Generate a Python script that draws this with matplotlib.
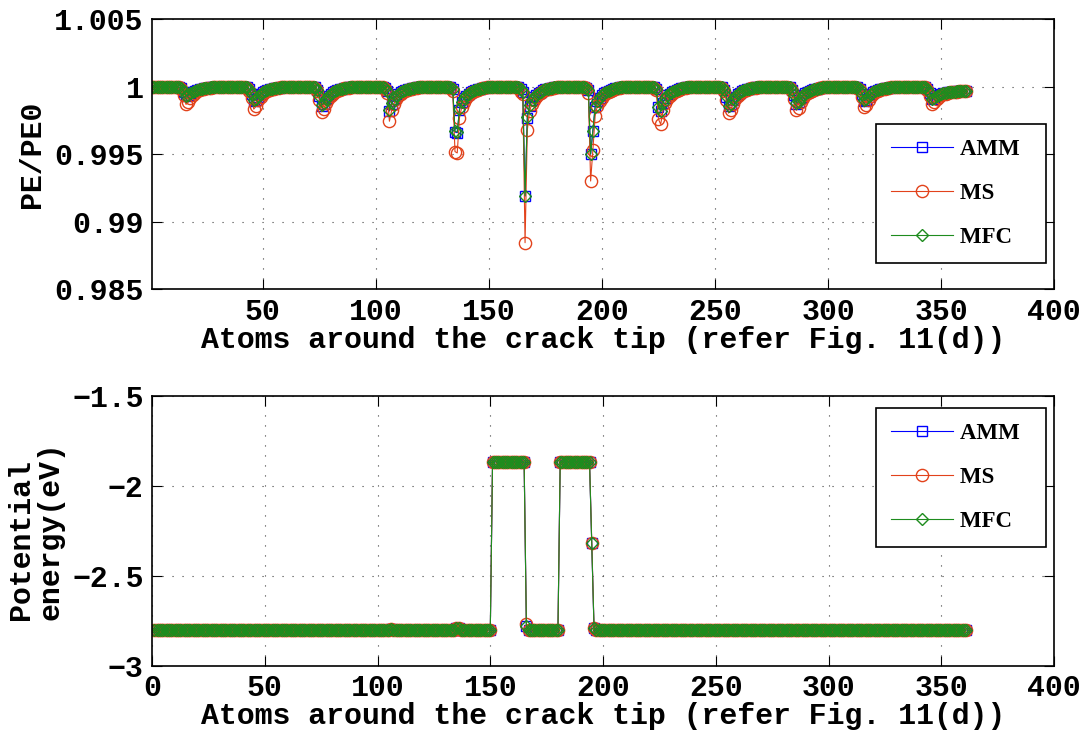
import matplotlib
matplotlib.use("Agg")
import matplotlib.pyplot as plt
from matplotlib.font_manager import FontProperties
from matplotlib.ticker import FixedLocator, FuncFormatter

# ---------------------------------------------------------------------------
# Datos: 361 atomos alrededor de la punta de grieta
# (atomo 1 + 12 anillos de 30 atomos).
# PE/PE0 guardado como desviacion de 1 en unidades de 1e-5, anillo por anillo.
# ---------------------------------------------------------------------------
atoms = list(range(1, 362))

amm_dev = (
    [0]
    + [0] * 11 + [-3, -12, -35, -68, -62, -48, -37, -29, -23, -18, -14, -11, -8, -6, -4, -3, -2, -1, 0]
    + [0] * 11 + [-4, -18, -55, -105, -95, -72, -55, -42, -33, -26, -20, -15, -11, -8, -6, -4, -3, -1, 0]
    + [0] * 11 + [-5, -25, -70, -140, -125, -92, -70, -54, -42, -33, -25, -19, -14, -10, -7, -5, -3, -1, 0]
    + [0] * 11 + [-3, -10, -30, -180, -125, -90, -68, -52, -41, -32, -25, -19, -14, -10, -7, -5, -3, -1, 0]
    + [0] * 10 + [-2, -5, -15, -335, -340, -170, -115, -85, -65, -50, -40, -31, -24, -18, -13, -9, -6, -4, -2, 0]
    + [0] * 11 + [-5, -15, -40, -810, -228, -140, -100, -75, -58, -45, -35, -27, -20, -15, -11, -8, -5, -3, -1]
    + [0] * 10 + [-3, -8, -25, -500, -328, -150, -105, -80, -62, -48, -38, -30, -23, -17, -12, -8, -5, -3, -1, 0]
    + [0] * 11 + [-5, -15, -150, -182, -120, -85, -64, -50, -39, -30, -23, -17, -12, -8, -5, -3, -2, -1, 0]
    + [0] * 11 + [-5, -25, -72, -145, -128, -95, -72, -55, -43, -34, -26, -20, -14, -10, -7, -5, -3, -1, 0]
    + [0] * 11 + [-4, -22, -62, -125, -112, -84, -64, -49, -38, -30, -23, -17, -13, -9, -6, -4, -3, -1, 0]
    + [0] * 11 + [-4, -18, -55, -105, -95, -72, -55, -42, -33, -26, -20, -15, -11, -8, -6, -4, -3, -1, 0]
    + [0] * 11 + [-4, -16, -48, -90, -84, -70, -60, -53, -47, -43, -40, -38, -36, -35, -34, -33, -32, -31, -30]
)

ms_dev = (
    [0]
    + [0] * 11 + [-5, -20, -60, -130, -115, -80, -58, -44, -34, -26, -20, -15, -11, -8, -6, -4, -3, -1, 0]
    + [0] * 11 + [-6, -28, -80, -165, -145, -100, -72, -54, -42, -32, -24, -18, -13, -10, -7, -5, -3, -1, 0]
    + [0] * 11 + [-7, -32, -95, -185, -165, -120, -88, -66, -51, -40, -30, -22, -16, -12, -9, -6, -4, -2, 0]
    + [0] * 11 + [-5, -15, -45, -255, -175, -125, -92, -70, -54, -42, -32, -24, -18, -13, -9, -6, -4, -2, 0]
    + [0] * 10 + [-3, -8, -30, -480, -490, -228, -150, -110, -82, -63, -49, -38, -29, -22, -16, -11, -7, -4, -2, 0]
    + [0] * 11 + [-8, -40, -55, -1155, -320, -180, -128, -95, -72, -56, -44, -34, -26, -19, -14, -10, -6, -3, -1]
    + [0] * 10 + [-5, -12, -45, -698, -468, -216, -140, -105, -80, -62, -48, -37, -28, -21, -15, -10, -6, -3, -1, 0]
    + [0] * 11 + [-8, -25, -240, -278, -175, -120, -88, -68, -52, -40, -30, -22, -16, -11, -7, -4, -2, -1, 0]
    + [0] * 11 + [-7, -33, -100, -195, -172, -125, -92, -69, -53, -41, -31, -23, -17, -12, -9, -6, -4, -2, 0]
    + [0] * 11 + [-6, -30, -88, -175, -155, -112, -82, -62, -48, -37, -28, -21, -15, -11, -8, -5, -3, -1, 0]
    + [0] * 11 + [-6, -26, -76, -150, -132, -95, -70, -53, -41, -32, -24, -18, -13, -10, -7, -5, -3, -1, 0]
    + [0] * 11 + [-5, -22, -65, -125, -112, -90, -75, -64, -56, -50, -45, -42, -39, -37, -35, -34, -33, -32, -31]
)

mfc_dev = (
    [0]
    + [0] * 11 + [-3, -11, -33, -65, -60, -47, -36, -29, -23, -18, -14, -11, -8, -6, -4, -3, -2, -1, 0]
    + [0] * 11 + [-4, -17, -52, -101, -92, -70, -54, -42, -33, -26, -20, -15, -11, -8, -6, -4, -3, -1, 0]
    + [0] * 11 + [-5, -24, -67, -135, -121, -90, -69, -53, -42, -33, -25, -19, -14, -10, -7, -5, -3, -1, 0]
    + [0] * 11 + [-3, -10, -29, -175, -121, -88, -67, -52, -41, -32, -25, -19, -14, -10, -7, -5, -3, -1, 0]
    + [0] * 10 + [-2, -5, -15, -330, -335, -166, -112, -84, -64, -50, -40, -31, -24, -18, -13, -9, -6, -4, -2, 0]
    + [0] * 11 + [-5, -15, -39, -808, -225, -138, -99, -74, -58, -45, -35, -27, -20, -15, -11, -8, -5, -3, -1]
    + [0] * 10 + [-3, -8, -25, -497, -325, -148, -104, -79, -62, -48, -38, -30, -23, -17, -12, -8, -5, -3, -1, 0]
    + [0] * 11 + [-5, -15, -146, -177, -117, -83, -63, -49, -39, -30, -23, -17, -12, -8, -5, -3, -2, -1, 0]
    + [0] * 11 + [-5, -24, -70, -140, -124, -92, -70, -54, -42, -33, -26, -20, -14, -10, -7, -5, -3, -1, 0]
    + [0] * 11 + [-4, -21, -60, -121, -109, -82, -63, -48, -38, -30, -23, -17, -13, -9, -6, -4, -3, -1, 0]
    + [0] * 11 + [-4, -17, -53, -101, -92, -70, -54, -42, -33, -26, -20, -15, -11, -8, -6, -4, -3, -1, 0]
    + [0] * 11 + [-4, -15, -46, -87, -82, -69, -59, -52, -47, -43, -40, -38, -36, -35, -34, -33, -32, -31, -30]
)

# energia potencial (eV): base -2.80, superficies de la grieta en -1.865
pe_amm = ([-2.80] * 105 + [-2.795] + [-2.80] * 28 + [-2.791, -2.790] + [-2.80] * 14
          + [-1.865] * 15 + [-2.777] + [-2.80] * 14 + [-1.865] * 14
          + [-2.318, -2.791] + [-2.80] * 165)
pe_ms = ([-2.80] * 105 + [-2.793] + [-2.80] * 28 + [-2.787, -2.786] + [-2.80] * 14
         + [-1.865] * 15 + [-2.768] + [-2.80] * 14 + [-1.865] * 14
         + [-2.314, -2.787] + [-2.80] * 165)
pe_mfc = ([-2.80] * 105 + [-2.795] + [-2.80] * 28 + [-2.791, -2.790] + [-2.80] * 14
          + [-1.865] * 15 + [-2.777] + [-2.80] * 14 + [-1.865] * 14
          + [-2.319, -2.791] + [-2.80] * 165)

for serie in (amm_dev, ms_dev, mfc_dev, pe_amm, pe_ms, pe_mfc):
    assert len(serie) == len(atoms)

ratio_amm = [1 + d * 1e-5 for d in amm_dev]
ratio_ms = [1 + d * 1e-5 for d in ms_dev]
ratio_mfc = [1 + d * 1e-5 for d in mfc_dev]

labels = ['AMM', 'MS', 'MFC']
xlabel = 'Atoms around the crack tip (refer Fig. 11(d))'

# ---------------------------------------------------------------------------
plt.rcParams['font.family'] = ['Liberation Mono', 'DejaVu Sans Mono']
plt.rcParams['font.weight'] = 'bold'
FS = 21.5

C_AMM, C_MS, C_MFC = '#0000ff', '#e2421b', '#1e8c1e'
estilos = [
    dict(color=C_AMM, marker='s', ms=6.8, mfc='none', mec=C_AMM),
    dict(color=C_MS, marker='o', ms=8.8, mfc='none', mec=C_MS),
    dict(color=C_MFC, marker='D', ms=6.6, mfc='none', mec=C_MFC),
]
leg_font = FontProperties(family='Liberation Serif', weight='bold', size=16.5)

fig = plt.figure(figsize=(10.86, 7.34), dpi=100)
ax1 = fig.add_axes([0.14, 0.6059, 0.8306, 0.3678])
ax2 = fig.add_axes([0.14, 0.0926, 0.8306, 0.3678])


def estilo_ejes(ax):
    ax.set_axisbelow(True)
    ax.grid(True, linestyle=(0, (1, 8)), color='0.25', linewidth=0.8)
    ax.tick_params(direction='in', length=7, width=0.8, top=True, right=True,
                   labelsize=FS, pad=6)
    for s in ax.spines.values():
        s.set_linewidth(1.2)
    ax.set_xlabel(xlabel, fontsize=FS, fontweight='bold', labelpad=0)


def leyenda(ax, y_top):
    leg = ax.legend([l + '  ' for l in labels], loc='upper right',
                    bbox_to_anchor=(0.991, y_top), prop=leg_font,
                    fancybox=False, edgecolor='black', framealpha=1,
                    borderpad=0.65, labelspacing=1.0, handlelength=2.7,
                    handletextpad=0.3, borderaxespad=0, numpoints=1)
    leg.get_frame().set_linewidth(1.2)


# --- PE/PE0 ---
for serie, st in zip([ratio_amm, ratio_ms, ratio_mfc], estilos):
    ax1.plot(atoms, serie, lw=0.8, mew=1.0, **st)
ax1.set_xlim(1, 400)
ax1.set_ylim(0.985, 1.005)
ax1.xaxis.set_major_locator(FixedLocator([50, 100, 150, 200, 250, 300, 350, 400]))
ax1.yaxis.set_major_locator(FixedLocator([0.985, 0.99, 0.995, 1.0, 1.005]))
ax1.yaxis.set_major_formatter(FuncFormatter(lambda v, p: '%g' % round(v, 3)))
estilo_ejes(ax1)
ax1.set_ylabel('PE/PE0', fontsize=FS, fontweight='bold')
ax1.yaxis.set_label_coords(-0.118, 0.5)
leyenda(ax1, 0.612)

# --- energia potencial ---
for serie, st in zip([pe_amm, pe_ms, pe_mfc], estilos):
    ax2.plot(atoms, serie, lw=0.8, mew=1.0, **st)
ax2.set_xlim(0, 400)
ax2.set_ylim(-3, -1.5)
ax2.xaxis.set_major_locator(FixedLocator(list(range(0, 401, 50))))
ax2.yaxis.set_major_locator(FixedLocator([-3, -2.5, -2, -1.5]))
ax2.yaxis.set_major_formatter(FuncFormatter(lambda v, p: ('%g' % v).replace('-', '\u2212')))
estilo_ejes(ax2)
ax2.set_ylabel('Potential\nenergy(eV)', fontsize=FS, fontweight='bold',
               linespacing=1.05, multialignment='left')
ax2.yaxis.set_label_coords(-0.097, 0.5)
leyenda(ax2, 0.955)

fig.savefig('out.png', dpi=100)
plt.close(fig)
